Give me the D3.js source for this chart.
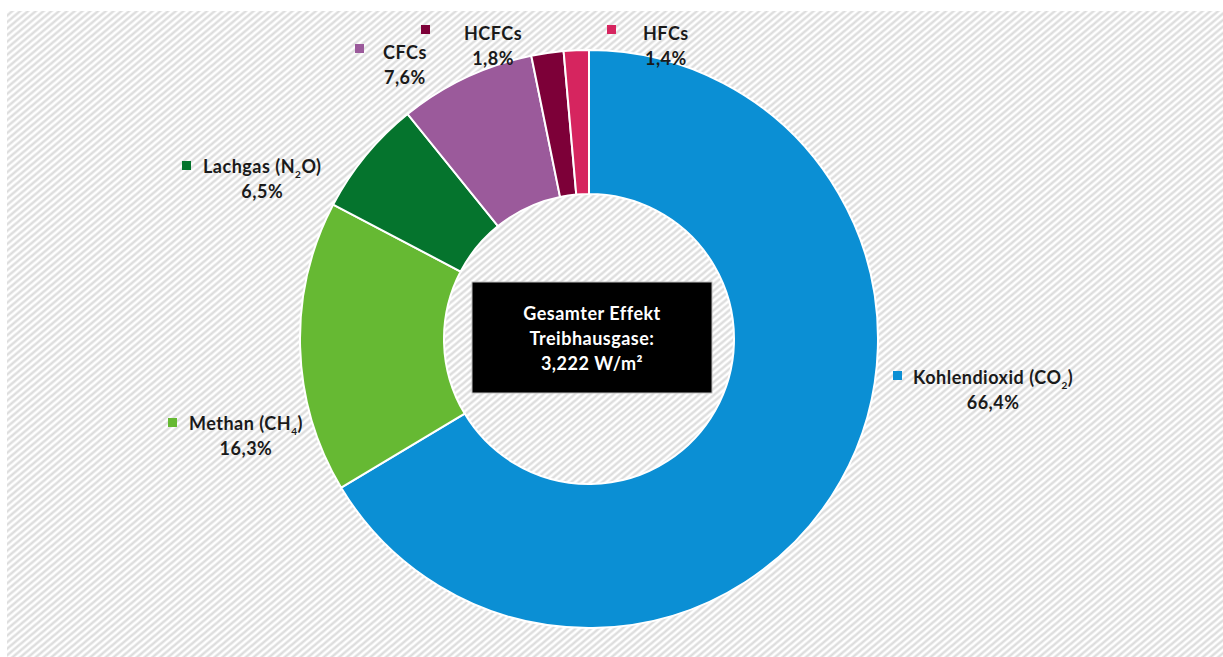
<!DOCTYPE html>
<html>
<head>
<meta charset="utf-8">
<script src="https://cdn.jsdelivr.net/npm/d3@7"></script>
<style>
  html, body { margin: 0; padding: 0; background: #fff; }
  svg { display: block; }
</style>
</head>
<body>
<div id="chart"></div>
<script>
// Data
var gases   = ["Kohlendioxid", "Methan", "Lachgas", "CFCs", "HCFCs", "HFCs"];
var formula = ["CO|2", "CH|4", "N|2|O", "", "", ""];   // chemical formula, "|" marks subscript digits
var shares  = [66.4, 16.3, 6.5, 7.6, 1.8, 1.4];
var colors  = ["#0b8fd4", "#66b933", "#05742d", "#9b5a9b", "#7d0038", "#d6255f"];
var centerLines = ["Gesamter Effekt", "Treibhausgase:", "3,222 W/m²"];

// Label anchors (marker x, marker y, name x, name baseline)
var labelPos = [
  [893, 371, 913, 384],
  [168, 418, 189, 430],
  [182, 161, 203, 173],
  [355, 44, 383, 59],
  [421, 25, 464, 40],
  [607, 25, 643, 40]
];

var w = 1223, h = 657;
var cx = 589, cy = 339;
var outerR = 289, innerR = 145;

var svg = d3.select("#chart").append("svg")
  .attr("width", w)
  .attr("height", h);

// Hatched background
var defs = svg.append("defs");
var pat = defs.append("pattern")
  .attr("id", "hatch")
  .attr("patternUnits", "userSpaceOnUse")
  .attr("width", 5)
  .attr("height", 10)
  .attr("patternTransform", "rotate(50)");
pat.append("rect").attr("width", 5).attr("height", 10).attr("fill", "#ffffff");
pat.append("line")
  .attr("x1", 1.5).attr("x2", 1.5)
  .attr("y1", 0).attr("y2", 10)
  .attr("stroke", "#dadada")
  .attr("stroke-width", 2.2);

svg.append("rect")
  .attr("x", 7).attr("y", 11)
  .attr("width", w - 7).attr("height", h - 11)
  .attr("fill", "url(#hatch)");

// Donut
var pie = d3.pie().sort(null).value(function(d) { return d; });
var arc = d3.arc().innerRadius(innerR).outerRadius(outerR);

var g = svg.append("g").attr("transform", "translate(" + cx + "," + cy + ")");
g.selectAll("path.slice")
  .data(pie(shares))
  .enter()
  .append("path")
  .attr("class", "slice")
  .attr("d", arc)
  .attr("fill", function(d, i) { return colors[i]; })
  .attr("stroke", "#ffffff")
  .attr("stroke-width", 2);

// Labels
var font = "Lato, 'Noto Sans', sans-serif";
var fmt = function(v) { return d3.format(".1f")(v).replace(".", ",") + "%"; };

var labels = svg.selectAll("g.label")
  .data(gases)
  .enter()
  .append("g")
  .attr("class", "label");

labels.append("rect")
  .attr("x", function(d, i) { return labelPos[i][0]; })
  .attr("y", function(d, i) { return labelPos[i][1]; })
  .attr("width", 9)
  .attr("height", 9)
  .attr("fill", function(d, i) { return colors[i]; });

labels.each(function(d, i) {
  var sel = d3.select(this);
  var t = sel.append("text")
    .attr("x", labelPos[i][2])
    .attr("y", labelPos[i][3])
    .attr("font-family", font)
    .attr("font-weight", 700)
    .attr("font-size", 18)
    .attr("letter-spacing", 0.5)
    .attr("fill", "#1a1a1a");
  t.append("tspan").text(d + (formula[i] ? " (" : ""));
  if (formula[i]) {
    formula[i].split("|").forEach(function(part, k) {
      var sub = k % 2 == 1;
      t.append("tspan")
        .attr("font-size", sub ? 10 : 18)
        .attr("dy", sub ? 5 : (k > 0 ? -5 : 0))
        .text(part);
    });
    var last = formula[i].split("|").length;
    t.append("tspan").attr("dy", last % 2 == 0 ? -5 : 0).text(")");
  }
  var bb = t.node().getBBox();
  sel.append("text")
    .attr("x", bb.x + bb.width / 2)
    .attr("y", labelPos[i][3] + 25)
    .attr("text-anchor", "middle")
    .attr("font-family", font)
    .attr("font-weight", 700)
    .attr("font-size", 18)
    .attr("letter-spacing", 0.5)
    .attr("fill", "#1a1a1a")
    .text(fmt(shares[i]));
});

// Center box
svg.append("rect")
  .attr("x", 472).attr("y", 282)
  .attr("width", 240).attr("height", 111)
  .attr("fill", "#000000")
  .attr("stroke", "#bbbbbb")
  .attr("stroke-width", 1);

svg.selectAll("text.center")
  .data(centerLines)
  .enter()
  .append("text")
  .attr("class", "center")
  .attr("x", 592)
  .attr("y", function(d, i) { return 320 + i * 25; })
  .attr("text-anchor", "middle")
  .attr("font-family", font)
  .attr("font-weight", 700)
  .attr("font-size", 18)
  .attr("letter-spacing", 0.5)
  .attr("fill", "#ffffff")
  .text(function(d) { return d; });
</script>
</body>
</html>
